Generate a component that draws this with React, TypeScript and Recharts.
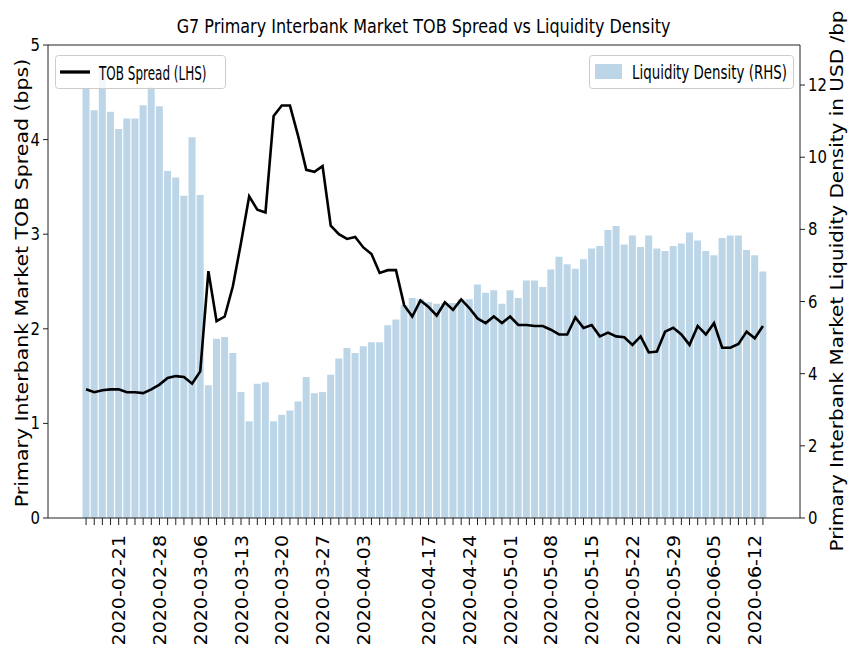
import { Bar, ComposedChart, Legend, Line, XAxis, YAxis } from "recharts";

const dates = [
  "2020-02-17", "2020-02-18", "2020-02-19", "2020-02-20", "2020-02-21",
  "2020-02-24", "2020-02-25", "2020-02-26", "2020-02-27", "2020-02-28",
  "2020-03-02", "2020-03-03", "2020-03-04", "2020-03-05", "2020-03-06",
  "2020-03-09", "2020-03-10", "2020-03-11", "2020-03-12", "2020-03-13",
  "2020-03-16", "2020-03-17", "2020-03-18", "2020-03-19", "2020-03-20",
  "2020-03-23", "2020-03-24", "2020-03-25", "2020-03-26", "2020-03-27",
  "2020-03-30", "2020-03-31", "2020-04-01", "2020-04-02", "2020-04-03",
  "2020-04-06", "2020-04-07", "2020-04-08", "2020-04-09",
  "2020-04-14", "2020-04-15", "2020-04-16", "2020-04-17",
  "2020-04-20", "2020-04-21", "2020-04-22", "2020-04-23", "2020-04-24",
  "2020-04-27", "2020-04-28", "2020-04-29", "2020-04-30", "2020-05-01",
  "2020-05-04", "2020-05-05", "2020-05-06", "2020-05-07", "2020-05-08",
  "2020-05-11", "2020-05-12", "2020-05-13", "2020-05-14", "2020-05-15",
  "2020-05-18", "2020-05-19", "2020-05-20", "2020-05-21", "2020-05-22",
  "2020-05-25", "2020-05-26", "2020-05-27", "2020-05-28", "2020-05-29",
  "2020-06-01", "2020-06-02", "2020-06-03", "2020-06-04", "2020-06-05",
  "2020-06-08", "2020-06-09", "2020-06-10", "2020-06-11", "2020-06-12",
  "2020-06-15",
];

// liquidity density, USD/bp (RHS)
const liquidity = [
  11.89, 11.3, 12.48, 11.26, 10.78, 11.07, 11.07, 11.44, 11.94, 11.41,
  9.62, 9.44, 8.93, 10.55, 8.95, 3.68, 4.97, 5.02, 4.57, 3.49,
  2.68, 3.72, 3.76, 2.68, 2.86, 2.98, 3.23, 3.91, 3.46, 3.49,
  3.97, 4.42, 4.71, 4.57, 4.76, 4.87, 4.87, 5.34, 5.5, 5.9,
  6.1, 6.06, 5.98, 5.94, 5.96, 5.96, 6.06, 6.06, 6.47, 6.24,
  6.31, 5.94, 6.31, 6.1, 6.58, 6.58, 6.4, 6.89, 7.24, 7.03,
  6.91, 7.17, 7.47, 7.54, 7.98, 8.09, 7.58, 7.83, 7.51, 7.83,
  7.47, 7.4, 7.54, 7.61, 7.91, 7.69, 7.4, 7.28, 7.76, 7.83,
  7.83, 7.43, 7.28, 6.83,
];

// TOB spread, bps (LHS)
const tobSpread = [
  1.36, 1.33, 1.35, 1.36, 1.36, 1.33, 1.33, 1.32, 1.36, 1.41,
  1.48, 1.5, 1.49, 1.42, 1.55, 2.61, 2.08, 2.13, 2.45, 2.91,
  3.4, 3.26, 3.23, 4.25, 4.36, 4.36, 4.04, 3.68, 3.66, 3.72,
  3.09, 3.0, 2.95, 2.97, 2.86, 2.79, 2.59, 2.62, 2.62, 2.25,
  2.13, 2.3, 2.23, 2.14, 2.28, 2.2, 2.31, 2.22, 2.11, 2.06,
  2.13, 2.06, 2.13, 2.04, 2.04, 2.03, 2.03, 1.99, 1.94, 1.94,
  2.12, 2.01, 2.04, 1.92, 1.96, 1.92, 1.91, 1.83, 1.92, 1.75,
  1.76, 1.97, 2.01, 1.94, 1.83, 2.03, 1.94, 2.06, 1.8, 1.8,
  1.84, 1.97, 1.9, 2.03,
];

const labelDates = [
  "2020-02-21", "2020-02-28", "2020-03-06", "2020-03-13", "2020-03-20",
  "2020-03-27", "2020-04-03", "2020-04-17", "2020-04-24", "2020-05-01",
  "2020-05-08", "2020-05-15", "2020-05-22", "2020-05-29", "2020-06-05",
  "2020-06-12",
];

const spreadTicks = [0, 1, 2, 3, 4, 5];
const densityTicks = [0, 2, 4, 6, 8, 10, 12];

const data = dates.map((date, i) => ({ date, liquidity: liquidity[i], spread: tobSpread[i] }));

const font = "'DejaVu Sans', sans-serif";
const spine = "#222";

function DateTick({ x, y, payload }: any) {
  if (!labelDates.includes(payload.value)) return null;
  return (
    <text transform={`translate(${x + 6.5},${y}) rotate(-90) scale(1,0.92)`} textAnchor="end" fontSize={19} fill="#000">
      {payload.value}
    </text>
  );
}

function ValueTick({ x, y, payload, textAnchor }: any) {
  return (
    <text transform={`translate(${x},${y + 6}) scale(0.85,1)`} textAnchor={textAnchor} fontSize={17.5} fill="#000">
      {payload.value}
    </text>
  );
}

function ChartLegend({ payload }: any) {
  const line = payload?.find((p: any) => p.dataKey === "spread");
  const bar = payload?.find((p: any) => p.dataKey === "liquidity");
  return (
    <svg width={848} height={100} style={{ display: "block", fontFamily: font }}>
      <rect x={55.5} y={55.5} width={170} height={33} rx={3} fill="#fff" fillOpacity={0.8} stroke="#ccc" />
      <line x1={60} x2={90} y1={72} y2={72} stroke={line?.color} strokeWidth={3.3} />
      <text transform="translate(99,79.5) scale(0.6,1)" fontSize={20}>
        {line?.value}
      </text>
      <rect x={589.5} y={55.5} width={204} height={33} rx={3} fill="#fff" fillOpacity={0.8} stroke="#ccc" />
      <rect x={595} y={64} width={27} height={15} fill={bar?.color} />
      <text transform="translate(632,79) scale(0.67,1)" fontSize={20}>
        {bar?.value}
      </text>
    </svg>
  );
}

export default function App() {
  return (
    <div style={{ position: "absolute", left: 0, top: 0, width: 848, height: 655, fontFamily: font, background: "#fff" }}>
      <ComposedChart width={848} height={655} data={data} margin={{ top: 44, right: 0, bottom: 0, left: 0 }} barCategoryGap={0.5}>
        <text transform="translate(423.5,33) scale(0.8,1)" textAnchor="middle" fontSize={20} fill="#000">
          G7 Primary Interbank Market TOB Spread vs Liquidity Density
        </text>
        <text transform="translate(28,283) rotate(-90) scale(1,0.9)" textAnchor="middle" fontSize={20.5} fill="#000">
          Primary Interbank Market TOB Spread (bps)
        </text>
        <text transform="translate(843,281) rotate(-90) scale(1,0.9)" textAnchor="middle" fontSize={20} fill="#000">
          Primary Interbank Market Liquidity Density in USD /bp
        </text>
        <XAxis
          dataKey="date"
          type="category"
          interval={0}
          height={137}
          padding={{ left: 34, right: 33 }}
          tick={DateTick}
          tickSize={7}
          tickMargin={10}
          tickLine={{ stroke: spine }}
          axisLine={{ stroke: spine }}
        />
        <XAxis xAxisId="top" dataKey="date" orientation="top" height={1} tick={false} tickLine={false} axisLine={{ stroke: spine }} padding={{ left: 34, right: 33 }} />
        <YAxis
          yAxisId="left"
          domain={[0, 5]}
          ticks={spreadTicks}
          width={48}
          tickSize={5}
          tickMargin={3}
          tick={ValueTick}
          tickLine={{ stroke: spine }}
          axisLine={{ stroke: spine }}
        />
        <YAxis
          yAxisId="right"
          orientation="right"
          domain={[0, 13.11]}
          ticks={densityTicks}
          width={48}
          tickSize={5}
          tickMargin={3}
          tick={ValueTick}
          tickLine={{ stroke: spine }}
          axisLine={{ stroke: spine }}
        />
        <Legend content={ChartLegend} verticalAlign="middle" align="center" wrapperStyle={{ left: 0, top: 0, width: 848, height: 100 }} />
        <Bar yAxisId="right" dataKey="liquidity" name="Liquidity Density (RHS)" fill="#bcd6e8" legendType="rect" isAnimationActive={false} />
        <Line yAxisId="left" dataKey="spread" name="TOB Spread (LHS)" type="linear" stroke="#000" strokeWidth={2.6} dot={false} legendType="line" isAnimationActive={false} />
      </ComposedChart>
    </div>
  );
}
